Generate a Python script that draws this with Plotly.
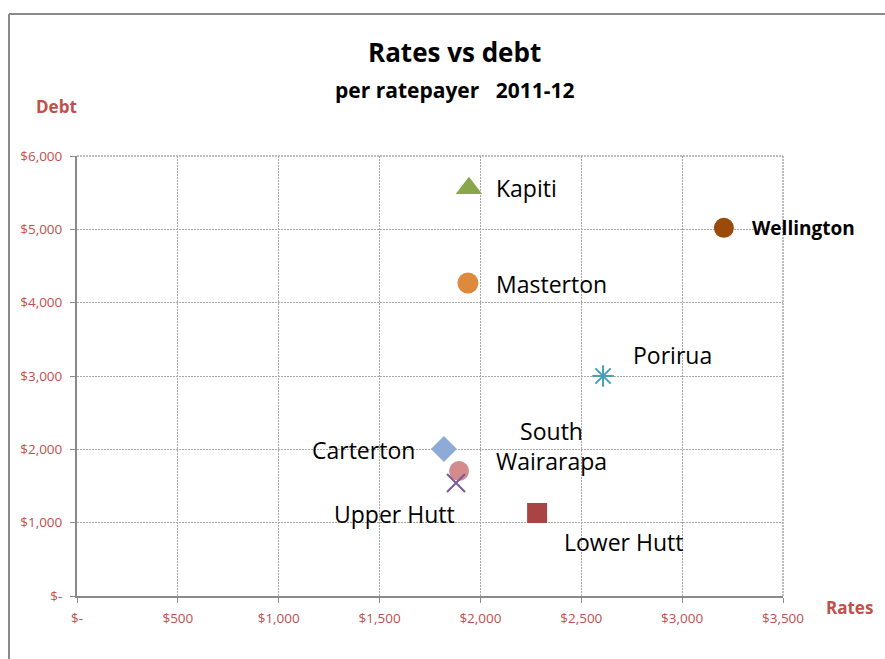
import plotly.graph_objects as go

# Rates and debt per ratepayer, 2011-12
councils = ["Kapiti", "Wellington", "Masterton", "Porirua", "Carterton",
            "South Wairarapa", "Upper Hutt", "Lower Hutt"]
rates = [1943, 3207, 1938, 2608, 1819, 1894, 1879, 2281]
debt = [5560, 5020, 4268, 3000, 2005, 1705, 1541, 1132]

x_ticks = [0, 500, 1000, 1500, 2000, 2500, 3000, 3500]
x_tick_text = ["$-", "$500", "$1,000", "$1,500", "$2,000", "$2,500", "$3,000", "$3,500"]
y_ticks = [0, 1000, 2000, 3000, 4000, 5000, 6000]
y_tick_text = ["$-", "$1,000", "$2,000", "$3,000", "$4,000", "$5,000", "$6,000"]

symbols = ["triangle-up", "circle", "circle", "asterisk-open", "diamond",
           "circle", "x-thin-open", "square"]
colors = ["#8aa64a", "#9a4a0b", "#dd8a3f", "#4a9fb5", "#8eaad6",
          "#d48b8b", "#7a5a9a", "#a84444"]
sizes = [23, 20, 21, 18, 20, 20, 18, 20]

# label placement: (xanchor, xshift, yshift, bold)
label_pos = {
    "Kapiti": ("left", 25, 0, False),
    "Wellington": ("left", 26, 0, True),
    "Masterton": ("left", 26, -1, False),
    "Porirua": ("left", 28, 21, False),
    "Carterton": ("right", -27, -1, False),
    "South Wairarapa": ("center", 92, 25, False),
    "Upper Hutt": ("center", -62, -31, False),
    "Lower Hutt": ("center", 86, -29, False),
}

FONT = "Open Sans, sans-serif"
RED = "#c0504d"
GRID = "#a8a8a8"

fig = go.Figure()
for name, x, y, sym, col, sz in zip(councils, rates, debt, symbols, colors, sizes):
    fig.add_trace(go.Scatter(
        x=[x], y=[y], mode="markers", name=name,
        marker=dict(symbol=sym, size=sz, color=col,
                    line=dict(color=col, width=2 if "open" in sym else 0)),
    ))

annotations = []
for name, x, y in zip(councils, rates, debt):
    anchor, xs, ys, bold = label_pos[name]
    text = "South<br>Wairarapa" if name == "South Wairarapa" else name
    if bold:
        text = "<b>" + text + "</b>"
    annotations.append(dict(
        x=x, y=y, xref="x", yref="y", text=text, showarrow=False,
        xanchor=anchor, yanchor="middle", xshift=xs, yshift=ys,
        align="center",
        font=dict(family=FONT, size=19 if bold else 23, color="#000000"),
    ))

annotations += [
    dict(x=0.5354, y=1.237, xref="paper", yref="paper", text="<b>Rates vs debt</b>",
         showarrow=False, xanchor="center", yanchor="middle",
         font=dict(family=FONT, size=26, color="#000000")),
    dict(x=0.5354, y=1.15, xref="paper", yref="paper",
         text="<b>per ratepayer&nbsp;&nbsp; 2011-12</b>", showarrow=False,
         xanchor="center", yanchor="middle",
         font=dict(family=FONT, size=21, color="#000000")),
    dict(x=-0.0286, y=1.1136, xref="paper", yref="paper", text="<b>Debt</b>",
         showarrow=False, xanchor="center", yanchor="middle",
         font=dict(family=FONT, size=17, color=RED)),
    dict(x=1.0935, y=-0.027, xref="paper", yref="paper", text="<b>Rates</b>",
         showarrow=False, xanchor="center", yanchor="middle",
         font=dict(family=FONT, size=17, color=RED)),
]

# outer chart frame (left and top edges) plus dotted grid on the far edges
shapes = [
    dict(type="line", xref="paper", yref="paper", x0=-0.0963, x1=-0.0963,
         y0=-0.2, y1=1.3227, line=dict(color="#8a8a8a", width=2)),
    dict(type="line", xref="paper", yref="paper", x0=-0.0963, x1=1.3,
         y0=1.3227, y1=1.3227, line=dict(color="#8a8a8a", width=2)),
    dict(type="line", xref="paper", yref="paper", x0=1, x1=1, y0=0, y1=1,
         line=dict(color=GRID, width=1.5, dash="2px,1px"), layer="below"),
    dict(type="line", xref="paper", yref="paper", x0=0, x1=1, y0=1, y1=1,
         line=dict(color=GRID, width=1.5, dash="2px,1px"), layer="below"),
]

axis_common = dict(
    showgrid=True, gridcolor=GRID, gridwidth=1.2, griddash="2px,1px",
    showline=True, linecolor="#8a8a8a", linewidth=2,
    ticks="outside", ticklen=5, tickcolor="#8a8a8a", tickwidth=1,
    tickfont=dict(family=FONT, size=13.5, color=RED),
    zeroline=False,
)

fig.update_layout(
    width=885, height=659,
    margin=dict(l=77, r=102, t=156, b=63),
    paper_bgcolor="white", plot_bgcolor="white",
    showlegend=False,
    annotations=annotations, shapes=shapes,
    xaxis=dict(range=[0, 3500], tickvals=x_ticks, ticktext=x_tick_text,
               ticklabelstandoff=4, **axis_common),
    yaxis=dict(range=[0, 6000], tickvals=y_ticks, ticktext=y_tick_text,
               ticklabelstandoff=5, **axis_common),
)

fig.write_html("out.html")
